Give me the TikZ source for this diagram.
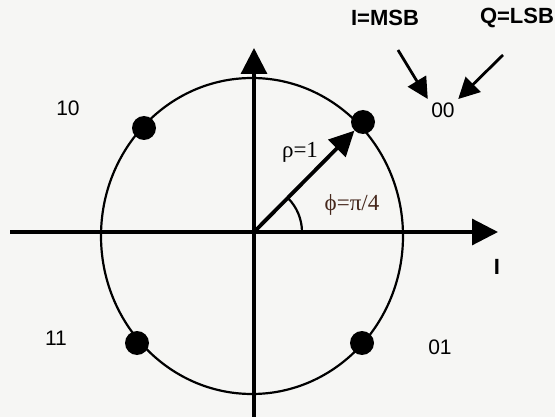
\documentclass[tikz,border=0pt]{standalone}
\usepackage{fontspec}
\setmainfont{Liberation Sans}
\newfontfamily\greekfont{Liberation Serif}
\usetikzlibrary{arrows.meta}
\definecolor{paper}{RGB}{246,246,244}
\definecolor{angleBrown}{RGB}{70,40,28}

\begin{document}
\begin{tikzpicture}[x=1pt, y=-1pt,
    axis/.style={line width=3.2pt, -{Triangle[length=26pt,width=26pt]}},
    point/.style={circle, fill=black, inner sep=0pt, minimum size=24pt},
    bits/.style={font=\fontsize{21}{24}\selectfont},
    tag/.style={font=\fontsize{22}{25}\selectfont\bfseries},
    greek/.style={font=\fontsize{23}{26}\selectfont\greekfont},
    pointer/.style={line width=2.8pt, -{Triangle[length=21pt,width=21pt]}}
]
\useasboundingbox (0,0) rectangle (555,417);
\fill[paper] (0,0) rectangle (555,417);

% axes
\coordinate (xs) at (10,232);
\coordinate (xe) at (498,232);
\coordinate (ys) at (254,417);
\coordinate (ye) at (254,48);
\coordinate (o) at (254,232);
\draw[axis] (xs) -- (xe);
\draw[axis] (ys) -- (ye);

% unit circle
\draw[line width=2.2pt] (252,236) ellipse[x radius=151, y radius=158];

% constellation points
\node[point] (p00) at (363,122) {};
\node[point] (p10) at (144,128) {};
\node[point] (p11) at (137,343) {};
\node[point] (p01) at (362,343) {};

\node[bits] (l00) at (443,110) {00};
\node[bits] (l10) at (68,108) {10};
\node[bits] (l11) at (56,338) {11};
\node[bits] (l01) at (440,347) {01};

\node[tag] (imsb) at (385,18) {I=MSB};
\node[tag] (qlsb) at (517,18) {Q=LSB};
\node[tag] (iaxis) at (497,267) {I};

% vector and angle
\draw[line width=3.8pt, -{Triangle[length=25pt,width=24pt]}] (o) -- (p00);
\draw[line width=2.2pt] (302,232) arc[start angle=0, end angle=-45, radius=48];
\node[greek] (rho) at (300,152) {ρ=1};
\node[greek, text=angleBrown] (phi) at (352,205) {ϕ=π/4};

% bit pointers
\coordinate (a1) at (398,50);
\coordinate (a2) at (503,55);
\draw[pointer] (a1) -- (l00.north west);
\draw[pointer] (a2) -- (l00.north east);
\end{tikzpicture}
\end{document}
